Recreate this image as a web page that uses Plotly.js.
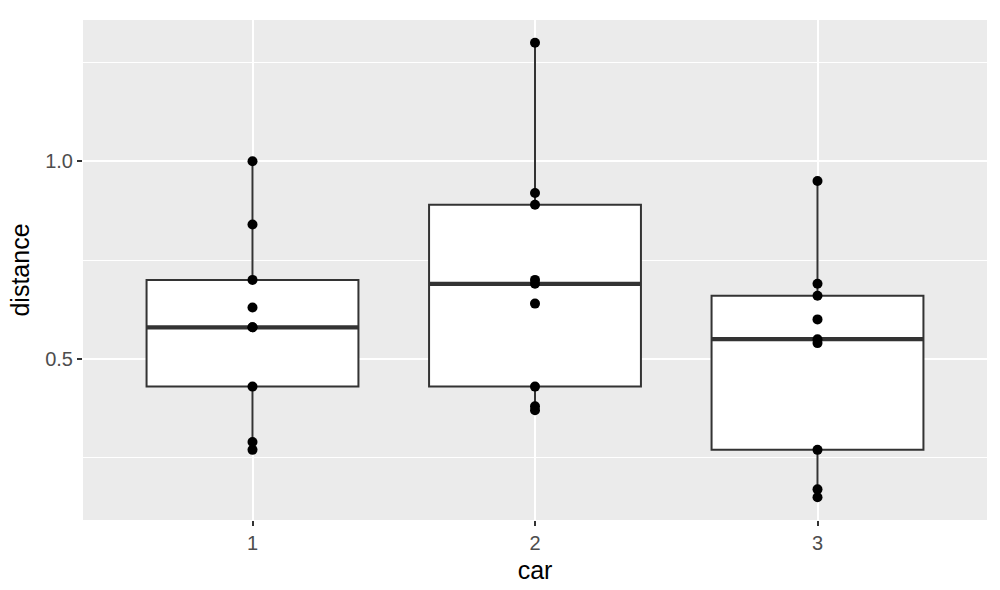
<!DOCTYPE html>
<html>
<head>
<meta charset="utf-8">
<script src="https://cdn.plot.ly/plotly-3.0.1.min.js"></script>
<style>html,body{margin:0;padding:0;background:#fff;}#chart{width:1000px;height:590px;}</style>
</head>
<body>
<div id="chart"></div>
<script>
var categories = ['1', '2', '3'];
var car1 = [1.00, 0.84, 0.70, 0.63, 0.58, 0.58, 0.43, 0.29, 0.27];
var car2 = [1.30, 0.92, 0.89, 0.70, 0.69, 0.64, 0.43, 0.38, 0.37];
var car3 = [0.95, 0.69, 0.66, 0.60, 0.55, 0.54, 0.27, 0.17, 0.15];
var yTickVals = [0.5, 1.0];
var yTickText = ['0.5', '1.0'];

var groups = [car1, car2, car3];
var boxX = [], boxY = [];
groups.forEach(function (g, i) {
  g.forEach(function (v) { boxX.push(i + 1); boxY.push(v); });
});

function median(arr) {
  var s = arr.slice().sort(function (a, b) { return a - b; });
  var n = s.length;
  return n % 2 ? s[(n - 1) / 2] : (s[n / 2 - 1] + s[n / 2]) / 2;
}

var traces = [];
traces.push({
  type: 'box', x: boxX, y: boxY, width: 0.75,
  boxpoints: false, quartilemethod: 'inclusive', whiskerwidth: 0,
  fillcolor: '#FFFFFF', line: { color: '#333333', width: 2 },
  hoverinfo: 'skip', showlegend: false
});
groups.forEach(function (g, i) {
  var m = median(g);
  traces.push({
    type: 'scatter', mode: 'lines',
    x: [i + 1 - 0.375, i + 1 + 0.375], y: [m, m],
    line: { color: '#333333', width: 4.2 },
    hoverinfo: 'skip', showlegend: false
  });
});
traces.push({
  type: 'scatter', mode: 'markers', x: boxX, y: boxY,
  marker: { color: '#000000', size: 10 },
  hoverinfo: 'skip', showlegend: false
});

var layout = {
  width: 1000, height: 590,
  margin: { l: 83, r: 13, t: 20, b: 70 },
  paper_bgcolor: '#FFFFFF', plot_bgcolor: '#EBEBEB',
  font: { family: 'Liberation Sans, Arial, sans-serif', color: '#000000' },
  showlegend: false,
  xaxis: {
    range: [0.4, 3.6], tickmode: 'array', tickvals: [1, 2, 3], ticktext: categories,
    showgrid: true, gridcolor: '#FFFFFF', gridwidth: 2, zeroline: false,
    ticks: 'outside', ticklen: 5, tickwidth: 2, tickcolor: '#333333',
    tickfont: { size: 20, color: '#4D4D4D' },
    title: { text: 'car', font: { size: 25, color: '#000000' }, standoff: 8 },
    showline: false, fixedrange: true
  },
  yaxis: {
    range: [0.0925, 1.3575], tickmode: 'array', tickvals: yTickVals, ticktext: yTickText,
    showgrid: true, gridcolor: '#FFFFFF', gridwidth: 2, zeroline: false,
    minor: { tickmode: 'array', tickvals: [0.25, 0.75, 1.25], showgrid: true, gridcolor: '#FFFFFF', gridwidth: 1, ticks: '' },
    ticks: 'outside', ticklen: 5, tickwidth: 2, tickcolor: '#333333',
    tickfont: { size: 20, color: '#4D4D4D' },
    title: { text: 'distance', font: { size: 25, color: '#000000' }, standoff: 8 },
    showline: false, fixedrange: true
  }
};

Plotly.newPlot('chart', traces, layout, { displayModeBar: false, staticPlot: true });
</script>
</body>
</html>
